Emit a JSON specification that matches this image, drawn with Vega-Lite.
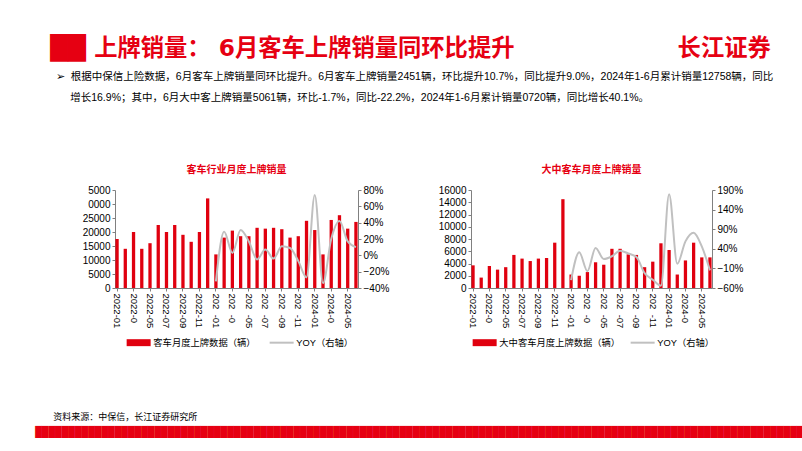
{
  "$schema": "https://vega.github.io/schema/vega-lite/v6.json",
  "padding": {"left": 35, "top": 36, "right": 0, "bottom": 0},
  "background": "white",
  "config": {
    "font": "Liberation Sans, Noto Sans CJK SC",
    "view": {"stroke": null},
    "axis": {"labelFontSize": 10, "labelColor": "#000", "domainColor": "#808080", "tickColor": "#808080", "tickSize": 3, "labelPadding": 2, "grid": false, "title": null},
    "legend": {"labelFont": "Liberation Sans, Noto Sans CJK SC"}
  },
  "data": {"values": [
    {"month": "2022-01", "bus": 17500, "bus_yoy": null, "big": 3700, "big_yoy": null},
    {"month": "2022-02", "bus": 14000, "bus_yoy": null, "big": 1700, "big_yoy": null},
    {"month": "2022-03", "bus": 20000, "bus_yoy": null, "big": 3600, "big_yoy": null},
    {"month": "2022-04", "bus": 14000, "bus_yoy": null, "big": 3000, "big_yoy": null},
    {"month": "2022-05", "bus": 16000, "bus_yoy": null, "big": 3400, "big_yoy": null},
    {"month": "2022-06", "bus": 22500, "bus_yoy": null, "big": 5400, "big_yoy": null},
    {"month": "2022-07", "bus": 20000, "bus_yoy": null, "big": 4800, "big_yoy": null},
    {"month": "2022-08", "bus": 22500, "bus_yoy": null, "big": 4400, "big_yoy": null},
    {"month": "2022-09", "bus": 19000, "bus_yoy": null, "big": 4800, "big_yoy": null},
    {"month": "2022-10", "bus": 16500, "bus_yoy": null, "big": 4900, "big_yoy": null},
    {"month": "2022-11", "bus": 20000, "bus_yoy": null, "big": 7400, "big_yoy": null},
    {"month": "2022-12", "bus": 32000, "bus_yoy": null, "big": 14500, "big_yoy": null},
    {"month": "2023-01", "bus": 12000, "bus_yoy": -0.32, "big": 2200, "big_yoy": -0.40},
    {"month": "2023-02", "bus": 18000, "bus_yoy": 0.29, "big": 2000, "big_yoy": 0.31},
    {"month": "2023-03", "bus": 20500, "bus_yoy": 0.03, "big": 2600, "big_yoy": -0.17},
    {"month": "2023-04", "bus": 18500, "bus_yoy": 0.31, "big": 4200, "big_yoy": 0.42},
    {"month": "2023-05", "bus": 18500, "bus_yoy": 0.17, "big": 3800, "big_yoy": 0.14},
    {"month": "2023-06", "bus": 21500, "bus_yoy": -0.05, "big": 6400, "big_yoy": 0.21},
    {"month": "2023-07", "bus": 21200, "bus_yoy": 0.07, "big": 6400, "big_yoy": 0.35},
    {"month": "2023-08", "bus": 21500, "bus_yoy": -0.04, "big": 5500, "big_yoy": 0.28},
    {"month": "2023-09", "bus": 21000, "bus_yoy": 0.11, "big": 5400, "big_yoy": 0.19},
    {"month": "2023-10", "bus": 18000, "bus_yoy": 0.09, "big": 3400, "big_yoy": -0.22},
    {"month": "2023-11", "bus": 18500, "bus_yoy": -0.07, "big": 4300, "big_yoy": -0.39},
    {"month": "2023-12", "bus": 24000, "bus_yoy": -0.27, "big": 7300, "big_yoy": -0.54},
    {"month": "2024-01", "bus": 20700, "bus_yoy": 0.74, "big": 6200, "big_yoy": 1.79},
    {"month": "2024-02", "bus": 12000, "bus_yoy": -0.34, "big": 2200, "big_yoy": 0.02},
    {"month": "2024-03", "bus": 24300, "bus_yoy": 0.20, "big": 4500, "big_yoy": 0.59},
    {"month": "2024-04", "bus": 26000, "bus_yoy": 0.42, "big": 7400, "big_yoy": 0.81},
    {"month": "2024-05", "bus": 21200, "bus_yoy": 0.17, "big": 5000, "big_yoy": 0.46},
    {"month": "2024-06", "bus": 23600, "bus_yoy": 0.10, "big": 5000, "big_yoy": -0.15}
  ]},
  "title": {
    "text": "██ 上牌销量：\u00a06月客车上牌销量同环比提升\u3000\u3000\u3000\u3000\u3000\u3000\u3000长江证券",
    "subtitle": "\u200b\u00a0\u00a0➢\u00a0\u00a0根据中保信上险数据，6月客车上牌销量同环比提升。6月客车上牌销量2451辆，环比提升10.7%，同比提升9.0%，2024年1-6月累计销量12758辆，同比",
    "anchor": "start", "frame": "bounds", "dx": 15,
    "font": "DejaVu Sans, Noto Sans CJK SC", "fontSize": 23.3, "fontWeight": "bold", "color": "#e60012",
    "subtitleFont": "Liberation Sans, Noto Sans CJK SC", "subtitleFontSize": 10.5, "subtitleColor": "#000",
    "subtitlePadding": 11, "offset": 9
  },
  "vconcat": [
    {
      "title": {
        "text": "增长16.9%；其中，6月大中客上牌销量5061辆，环比-1.7%，同比-22.2%，2024年1-6月累计销量0720辆，同比增长40.1%。",
        "anchor": "start", "frame": "bounds", "dx": 35,
        "font": "Liberation Sans, Noto Sans CJK SC", "fontSize": 10.5, "fontWeight": "normal", "color": "#000",
        "offset": 62
      },
      "vconcat": [
        {
          "title": {
            "text": "\u200b\u3000\u3000资料来源：中保信，长江证券研究所",
            "subtitle": "████████████████████████████████████████████████████████████████████████████████████████████████████████████████████",
            "orient": "bottom", "anchor": "start", "frame": "bounds", "dx": -47,
            "fontSize": 9, "fontWeight": "normal", "color": "#000",
            "subtitleFont": "DejaVu Sans Mono", "subtitleFontSize": 11, "subtitleColor": "#e60012", "subtitlePadding": 5,
            "offset": 46
          },
          "spacing": 49,
          "resolve": {"scale": {"color": "independent"}, "legend": {"color": "independent"}},
          "hconcat": [
            {
              "title": {"text": "客车行业月度上牌销量", "color": "#e60012", "fontSize": 10, "fontWeight": "bold", "anchor": "middle", "offset": 10, "font": "Noto Sans CJK SC"},
              "width": 243, "height": 98,
              "resolve": {"scale": {"y": "independent"}},
              "layer": [
                {
                  "mark": {"type": "bar"},
                  "encoding": {
                    "x": {"field": "month", "type": "ordinal", "scale": {"paddingInner": 0.6, "paddingOuter": 0.05},
                      "axis": {"values": ["2022-01","2022-03","2022-05","2022-07","2022-09","2022-11","2023-01","2023-03","2023-05","2023-07","2023-09","2023-11","2024-01","2024-03","2024-05"],
                        "labelAngle": 90, "labelFontSize": 9.5, "labelPadding": 2,
                        "labelExpr": "replace(datum.label, regexp('3','g'), '\u2007')"}},
                    "y": {"field": "bus", "type": "quantitative", "scale": {"domain": [0, 35000]},
                      "axis": {"values": [0,5000,10000,15000,20000,25000,30000,35000], "format": "d",
                        "labelExpr": "replace(datum.label, regexp('3','g'), '\u2007')"}},
                    "color": {"datum": "客车月度上牌数据（辆）", "type": "nominal",
                      "scale": {"domain": ["客车月度上牌数据（辆）", "YOY（右轴）"], "range": ["#e0000f", "#c0c0c0"]},
                      "legend": {"orient": "bottom", "direction": "horizontal", "title": null, "labelFontSize": 9.3, "labelColor": "#000",
                        "symbolSize": 576, "columnPadding": 9, "labelOffset": 10, "offset": -9, "padding": 19,
                        "encode": {"symbols": {"update": {
                          "shape": {"signal": "datum.value === 'YOY（右轴）' ? 'M-1,0H1' : 'M-1,-0.29H1V0.29H-1Z'"},
                          "fill": {"signal": "datum.value === 'YOY（右轴）' ? 'transparent' : '#e0000f'"},
                          "stroke": {"signal": "datum.value === 'YOY（右轴）' ? '#c0c0c0' : '#e0000f'"},
                          "strokeWidth": {"signal": "datum.value === 'YOY（右轴）' ? 2 : 0"},
                          "opacity": {"value": 1}}}}}}
                  }
                },
                {
                  "mark": {"type": "line", "interpolate": "monotone", "strokeWidth": 2},
                  "encoding": {
                    "x": {"field": "month", "type": "ordinal"},
                    "y": {"field": "bus_yoy", "type": "quantitative", "scale": {"domain": [-0.4, 0.8]},
                      "axis": {"orient": "right", "values": [-0.4,-0.2,0,0.2,0.4,0.6,0.8], "format": ".0%"}},
                    "color": {"datum": "YOY（右轴）", "type": "nominal"}
                  }
                }
              ]
            },
            {
              "title": {"text": "大中客车月度上牌销量", "color": "#e60012", "fontSize": 10, "fontWeight": "bold", "anchor": "middle", "offset": 10, "font": "Noto Sans CJK SC"},
              "width": 241, "height": 98,
              "resolve": {"scale": {"y": "independent"}},
              "layer": [
                {
                  "mark": {"type": "bar"},
                  "encoding": {
                    "x": {"field": "month", "type": "ordinal", "scale": {"paddingInner": 0.6, "paddingOuter": 0.05},
                      "axis": {"values": ["2022-01","2022-03","2022-05","2022-07","2022-09","2022-11","2023-01","2023-03","2023-05","2023-07","2023-09","2023-11","2024-01","2024-03","2024-05"],
                        "labelAngle": 90, "labelFontSize": 9.5, "labelPadding": 2,
                        "labelExpr": "replace(datum.label, regexp('3','g'), '\u2007')"}},
                    "y": {"field": "big", "type": "quantitative", "scale": {"domain": [0, 16000]},
                      "axis": {"values": [0,2000,4000,6000,8000,10000,12000,14000,16000], "format": "d"}},
                    "color": {"datum": "大中客车月度上牌数据（辆）", "type": "nominal",
                      "scale": {"domain": ["大中客车月度上牌数据（辆）", "YOY（右轴）"], "range": ["#e0000f", "#c0c0c0"]},
                      "legend": {"orient": "bottom", "direction": "horizontal", "title": null, "labelFontSize": 9.3, "labelColor": "#000",
                        "symbolSize": 576, "columnPadding": 5, "labelOffset": 10, "offset": 1, "padding": 9,
                        "encode": {"symbols": {"update": {
                          "shape": {"signal": "datum.value === 'YOY（右轴）' ? 'M-1,0H1' : 'M-1,-0.29H1V0.29H-1Z'"},
                          "fill": {"signal": "datum.value === 'YOY（右轴）' ? 'transparent' : '#e0000f'"},
                          "stroke": {"signal": "datum.value === 'YOY（右轴）' ? '#c0c0c0' : '#e0000f'"},
                          "strokeWidth": {"signal": "datum.value === 'YOY（右轴）' ? 2 : 0"},
                          "opacity": {"value": 1}}}}}}
                  }
                },
                {
                  "mark": {"type": "line", "interpolate": "monotone", "strokeWidth": 2},
                  "encoding": {
                    "x": {"field": "month", "type": "ordinal"},
                    "y": {"field": "big_yoy", "type": "quantitative", "scale": {"domain": [-0.6, 1.9]},
                      "axis": {"orient": "right", "values": [-0.6,-0.1,0.4,0.9,1.4,1.9], "format": ".0%"}},
                    "color": {"datum": "YOY（右轴）", "type": "nominal"}
                  }
                }
              ]
            }
          ]
        }
      ]
    }
  ]
}
